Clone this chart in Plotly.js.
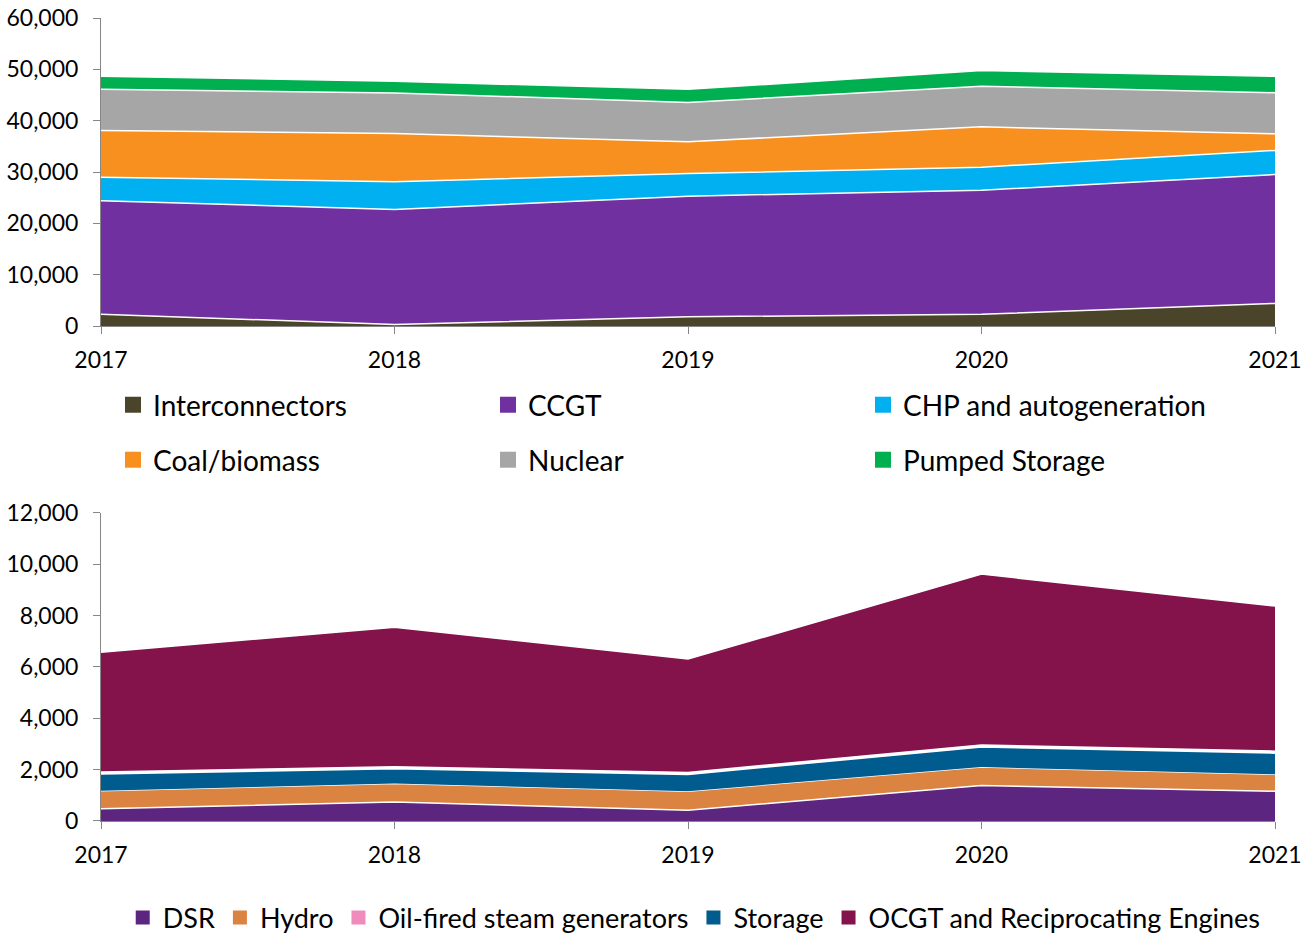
<!DOCTYPE html>
<html>
<head>
<meta charset="utf-8">
<script src="https://cdn.plot.ly/plotly-3.0.1.min.js"></script>
<style>
  html, body { margin: 0; padding: 0; background: #ffffff; }
  #chart { width: 1314px; height: 935px; }
</style>
</head>
<body>
<div id="chart"></div>
<script>
// years shared by both panels
const years = [2017, 2018, 2019, 2020, 2021];

// top panel (MW), stacked bottom to top
const interconnectors = [2300, 300, 1800, 2300, 4400];
const ccgt = [22100, 22400, 23500, 24150, 25100];
const chp = [4600, 5400, 4400, 4500, 4700];
const coalBiomass = [9100, 9400, 6200, 7850, 3250];
const nuclear = [8000, 7900, 7650, 7900, 8000];
const pumpedStorage = [2550, 2300, 2550, 3050, 3200];

// bottom panel (MW), stacked bottom to top
const dsr = [480, 740, 420, 1380, 1160];
const hydro = [700, 720, 740, 720, 660];
const oilFired = [0, 0, 0, 0, 0];
const storage = [690, 610, 690, 820, 860];
const ocgt = [4700, 5475, 4455, 6690, 5690];

const FONT = 'Lato, "Open Sans", sans-serif';
const AXIS_GREY = '#868686';

const topSeries = [
  { name: 'Interconnectors', y: interconnectors, color: '#4a452a', legend: 'legend' },
  { name: 'CCGT', y: ccgt, color: '#7030a0', legend: 'legend' },
  { name: 'CHP and autogeneration', y: chp, color: '#00b0f0', legend: 'legend' },
  { name: 'Coal/biomass', y: coalBiomass, color: '#f7901e', legend: 'legend2' },
  { name: 'Nuclear', y: nuclear, color: '#a6a6a6', legend: 'legend2' },
  { name: 'Pumped Storage', y: pumpedStorage, color: '#00b050', legend: 'legend2' }
];

const bottomSeries = [
  { name: 'DSR', y: dsr, color: '#5c2680', width: 1.5 },
  { name: 'Hydro', y: hydro, color: '#db8340', width: 1.5 },
  { name: 'Oil-fired steam generators', y: oilFired, color: '#f08cbc', width: 0 },
  { name: 'Storage', y: storage, color: '#005b8f', width: 3.5 },
  { name: 'OCGT and Reciprocating Engines', y: ocgt, color: '#83134a', width: 1.5 }
];

const traces = [];

// filled areas
topSeries.forEach(s => {
  traces.push({
    x: years, y: s.y, name: s.name, type: 'scatter', mode: 'lines',
    stackgroup: 'top', fillcolor: s.color,
    line: { color: '#ffffff', width: 1.5 },
    showlegend: false, hoverinfo: 'x+y+name'
  });
});
bottomSeries.forEach(s => {
  traces.push({
    x: years, y: s.y, name: s.name, type: 'scatter', mode: 'lines',
    stackgroup: 'bottom', fillcolor: s.color,
    line: { color: '#ffffff', width: s.width },
    xaxis: 'x2', yaxis: 'y2',
    showlegend: false, hoverinfo: 'x+y+name'
  });
});

// square legend swatches
topSeries.forEach(s => {
  traces.push({
    x: [null], y: [null], name: s.name, type: 'scatter', mode: 'markers',
    marker: { symbol: 'square', size: 16, color: s.color },
    legend: s.legend
  });
});
bottomSeries.forEach(s => {
  traces.push({
    x: [null], y: [null], name: s.name, type: 'scatter', mode: 'markers',
    marker: { symbol: 'square', size: 14, color: s.color },
    xaxis: 'x2', yaxis: 'y2', legend: 'legend3'
  });
});

const xAxisBase = {
  range: [2017, 2021], tickvals: years, tickformat: 'd',
  showgrid: false, zeroline: false,
  showline: true, linecolor: AXIS_GREY, linewidth: 1,
  ticks: 'outside', ticklen: 7, tickcolor: AXIS_GREY,
  ticklabelstandoff: 6,
  tickfont: { family: FONT, size: 23, color: '#000000' }
};
const yAxisBase = {
  showgrid: false, zeroline: false,
  showline: true, linecolor: AXIS_GREY, linewidth: 1,
  ticks: 'outside', ticklen: 7, tickcolor: AXIS_GREY,
  tickformat: ',d', ticklabelstandoff: 10,
  tickfont: { family: FONT, size: 23, color: '#000000' }
};

const legendBase = {
  orientation: 'h', xanchor: 'left', yanchor: 'middle',
  xref: 'container', yref: 'container', traceorder: 'normal',
  font: { family: FONT, size: 28, color: '#000000' },
  bgcolor: 'rgba(0,0,0,0)'
};

const layout = {
  width: 1314, height: 935,
  margin: { l: 101, r: 39, t: 18, b: 114, autoexpand: false },
  paper_bgcolor: '#ffffff', plot_bgcolor: '#ffffff',
  font: { family: FONT, color: '#000000' },
  xaxis: Object.assign({}, xAxisBase, { anchor: 'y' }),
  yaxis: Object.assign({}, yAxisBase, { domain: [0.6164, 1], range: [0, 60000], dtick: 10000 }),
  xaxis2: Object.assign({}, xAxisBase, { anchor: 'y2' }),
  yaxis2: Object.assign({}, yAxisBase, { domain: [0, 0.3839], range: [0, 12000], dtick: 2000 }),
  legend: Object.assign({}, legendBase, { x: 0.086, y: 0.5668, entrywidth: 330 }),
  legend2: Object.assign({}, legendBase, { x: 0.086, y: 0.508, entrywidth: 330 }),
  legend3: Object.assign({}, legendBase, { x: 0.0934, y: 0.0182, font: { family: FONT, size: 27, color: '#000000' } }),
  showlegend: true
};

Plotly.newPlot('chart', traces, layout, { displayModeBar: false });
</script>
</body>
</html>
